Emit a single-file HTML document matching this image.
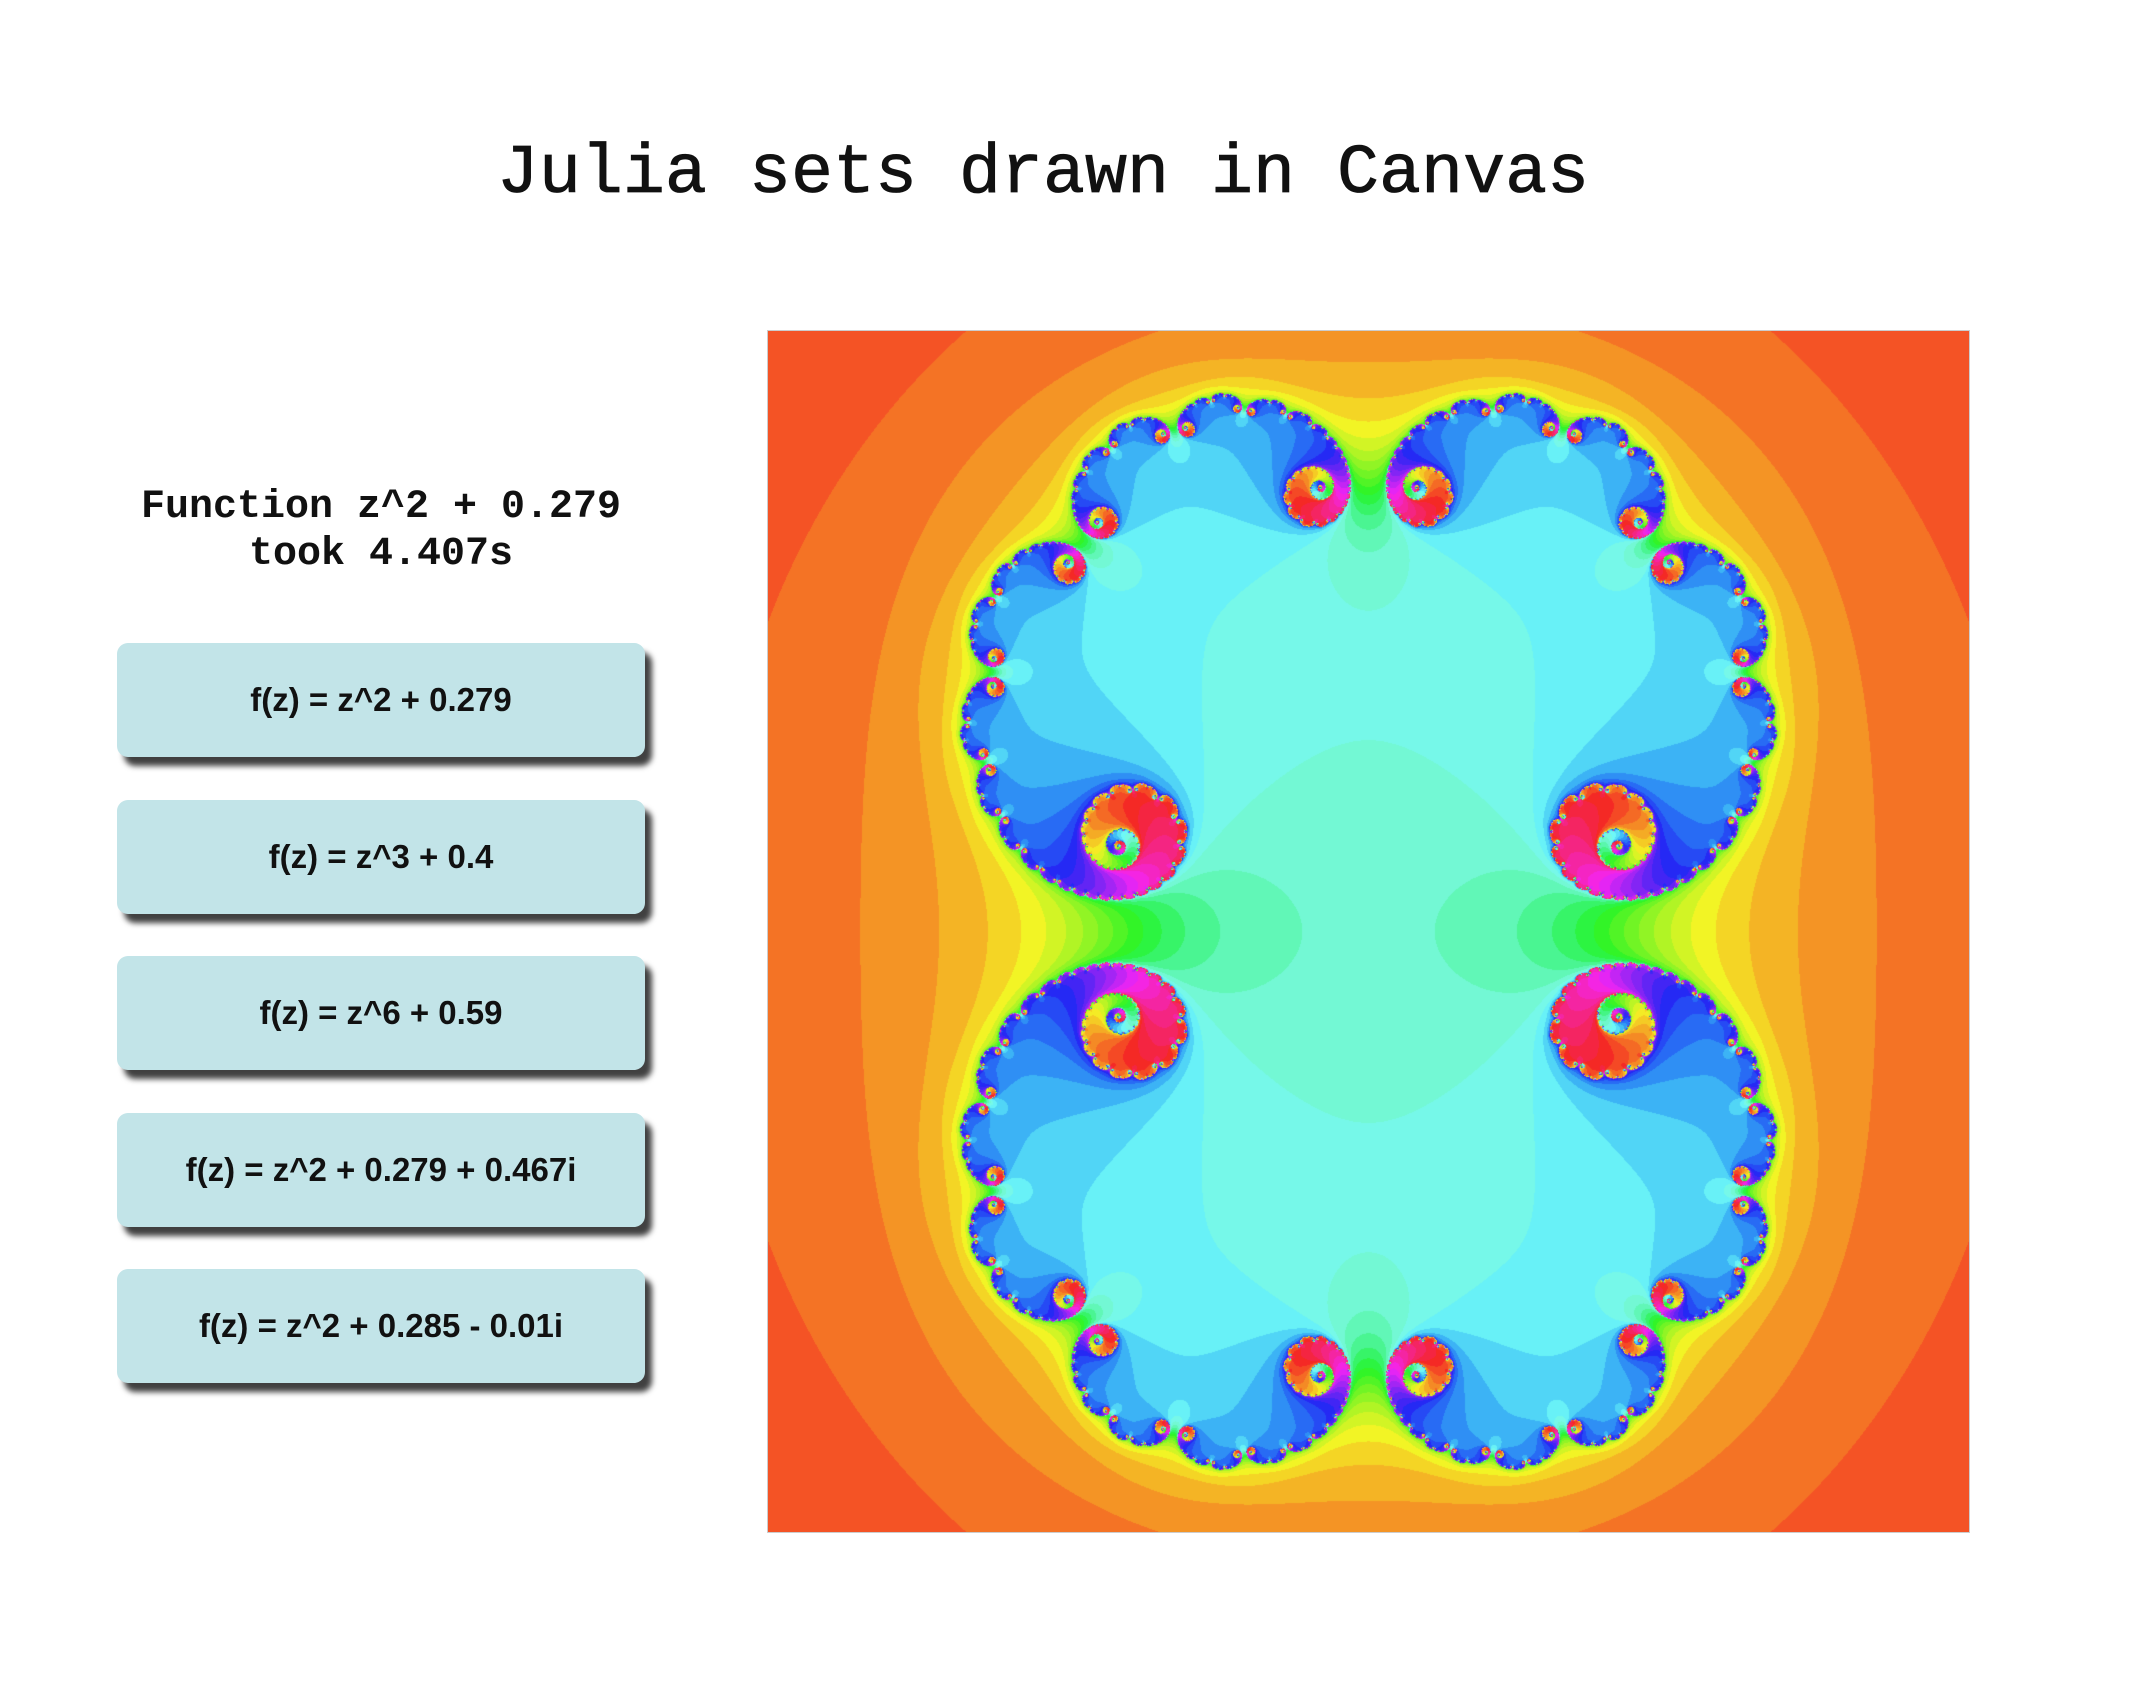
<!DOCTYPE html>
<html>
<head>
<meta charset="utf-8">
<style>
html,body{margin:0;padding:0;background:#fff;}
body{width:2130px;height:1686px;position:relative;overflow:hidden;}
#title{position:absolute;left:0;width:2086px;top:130px;text-align:center;font-family:"Liberation Mono",monospace;font-size:70px;line-height:90px;color:#111;margin:0;font-weight:normal;-webkit-text-stroke:0.8px #111;}
#status{position:absolute;left:114px;width:534px;top:484px;text-align:center;font-family:"Liberation Mono",monospace;font-weight:bold;font-size:40px;line-height:47px;color:#111;}
.btn{position:absolute;left:117px;width:528px;height:114px;background:#c2e4e8;border-radius:11px;box-shadow:7px 9px 6px rgba(0,0,0,0.75);font-family:"Liberation Sans",sans-serif;font-weight:bold;font-size:33px;color:#111;display:flex;align-items:center;justify-content:center;}
#julia{position:absolute;left:768px;top:331px;width:1201px;height:1201px;outline:1px solid #ccc;}
</style>
</head>
<body>
<h1 id="title">Julia sets drawn in Canvas</h1>
<div id="status">Function z^2 + 0.279<br>took 4.407s</div>
<div id="buttons"></div>
<canvas id="julia" width="1201" height="1201"></canvas>
<script>
const labels = ["f(z) = z^2 + 0.279","f(z) = z^3 + 0.4","f(z) = z^6 + 0.59","f(z) = z^2 + 0.279 + 0.467i","f(z) = z^2 + 0.285 - 0.01i"];
const cRe = [0.279];
const cIm = [0];
const wrap = document.getElementById('buttons');
labels.forEach((t,i)=>{
  const b=document.createElement('div');
  b.className='btn';
  b.style.top=(643+i*156.5)+'px';
  b.textContent=t;
  
  
  wrap.appendChild(b);
});
const cv=document.getElementById('julia');
const ctx=cv.getContext('2d');
const W=cv.width,H=cv.height;
const img=ctx.createImageData(W,H);
function hsl(h,s,l){
  h=((h%360)+360)%360/360;
  const q=l<0.5?l*(1+s):l+s-l*s,p=2*l-q;
  const f=t=>{if(t<0)t+=1;if(t>1)t-=1;if(t<1/6)return p+(q-p)*6*t;if(t<1/2)return q;if(t<2/3)return p+(q-p)*(2/3-t)*6;return p;};
  return [f(h+1/3)*255,f(h)*255,f(h-1/3)*255];
}
const pal=[];
for(let n=0;n<=200;n++){
  const h=4+n*9.4, hm=((h%360)+360)%360;
  const L=0.55+0.17*Math.exp(-Math.pow((hm-170)/28,2));
  pal.push(hsl(h,0.9,L));
}
const R=1.2;
for(let py=0;py<H;py++){
  const im0=R-(py/(H-1))*2*R;
  for(let px=0;px<W;px++){
    let x=(px/(W-1))*2*R-R, y=im0;
    let n=0;
    while(n<200 && x*x+y*y<4){const t=x*x-y*y+cRe[0];y=2*x*y+cIm[0];x=t;n++;}
    const c=pal[n];const k=(py*W+px)*4;
    img.data[k]=c[0];img.data[k+1]=c[1];img.data[k+2]=c[2];img.data[k+3]=255;
  }
}
ctx.putImageData(img,0,0);
</script>
</body>
</html>
